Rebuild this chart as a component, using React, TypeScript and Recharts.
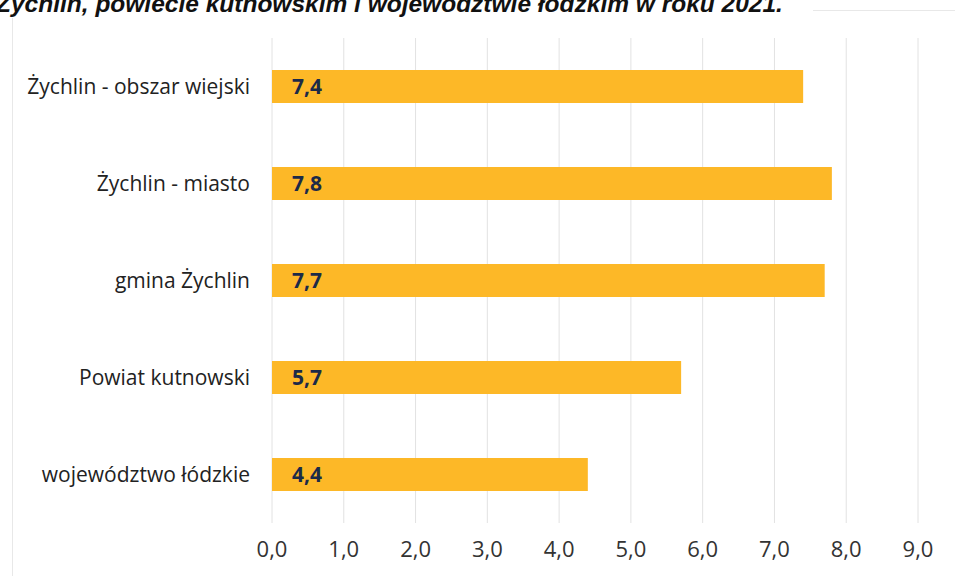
import { BarChart, Bar, XAxis, YAxis, CartesianGrid, LabelList } from 'recharts'

const CATEGORIES = [
  'Żychlin - obszar wiejski',
  'Żychlin - miasto',
  'gmina Żychlin',
  'Powiat kutnowski',
  'województwo łódzkie',
]
const VALUES = [7.4, 7.8, 7.7, 5.7, 4.4]
const TICKS = [0, 1, 2, 3, 4, 5, 6, 7, 8, 9]
const TITLE = 'Żychlin, powiecie kutnowskim i województwie łódzkim w roku 2021.'

const BAR_COLOR = '#FDB827'
const FONT = '"Open Sans", Lato, sans-serif'

const fmt = (v: number) => v.toFixed(1).replace('.', ',')

const rows = CATEGORIES.map((name, i) => ({ name, value: VALUES[i] }))

function ValueLabel(props: any) {
  const { x, y, height, value } = props
  return (
    <text x={x + 20} y={y + height / 2} dy="0.36em" fill="#1c2a48"
          fontSize={21} fontWeight={700} fontFamily={FONT}>
      {fmt(value)}
    </text>
  )
}

export default function App() {
  return (
    <div style={{ position: 'fixed', left: 0, top: 0, width: 955, height: 576, background: '#fff', overflow: 'hidden' }}>
      {/* faint frame of the original chart box */}
      <div style={{ position: 'absolute', left: 12, top: 10, right: -2, bottom: -2,
                    borderLeft: '1px solid #e8e8e8', borderTop: '1px solid #e8e8e8' }} />
      <div style={{ position: 'absolute', left: -4, top: -10, background: '#fff', paddingRight: 30,
                    fontFamily: '"Liberation Sans", Arial, sans-serif', fontStyle: 'italic',
                    fontWeight: 700, fontSize: 24.5, color: '#111', whiteSpace: 'nowrap', lineHeight: '28px' }}>
        {TITLE}
      </div>
      <div style={{ position: 'absolute', left: 0, top: 0 }}>
        <BarChart width={955} height={576} data={rows} layout="vertical"
                  margin={{ top: 38, right: 37, bottom: 23, left: 0 }} barCategoryGap="33%">
          <CartesianGrid horizontal={false} stroke="#e2e2e2" />
          <XAxis type="number" domain={[0, 9]} ticks={TICKS} tickFormatter={fmt}
                 axisLine={false} tickLine={false} tickMargin={12}
                 tick={{ fill: '#333', fontSize: 22, fontFamily: FONT }} />
          <YAxis type="category" dataKey="name" width={272}
                 axisLine={false} tickLine={false} tickMargin={16}
                 tick={{ fill: '#222', fontSize: 21, fontFamily: FONT }} />
          <Bar dataKey="value" fill={BAR_COLOR} isAnimationActive={false}>
            <LabelList dataKey="value" content={<ValueLabel />} />
          </Bar>
        </BarChart>
      </div>
    </div>
  )
}
